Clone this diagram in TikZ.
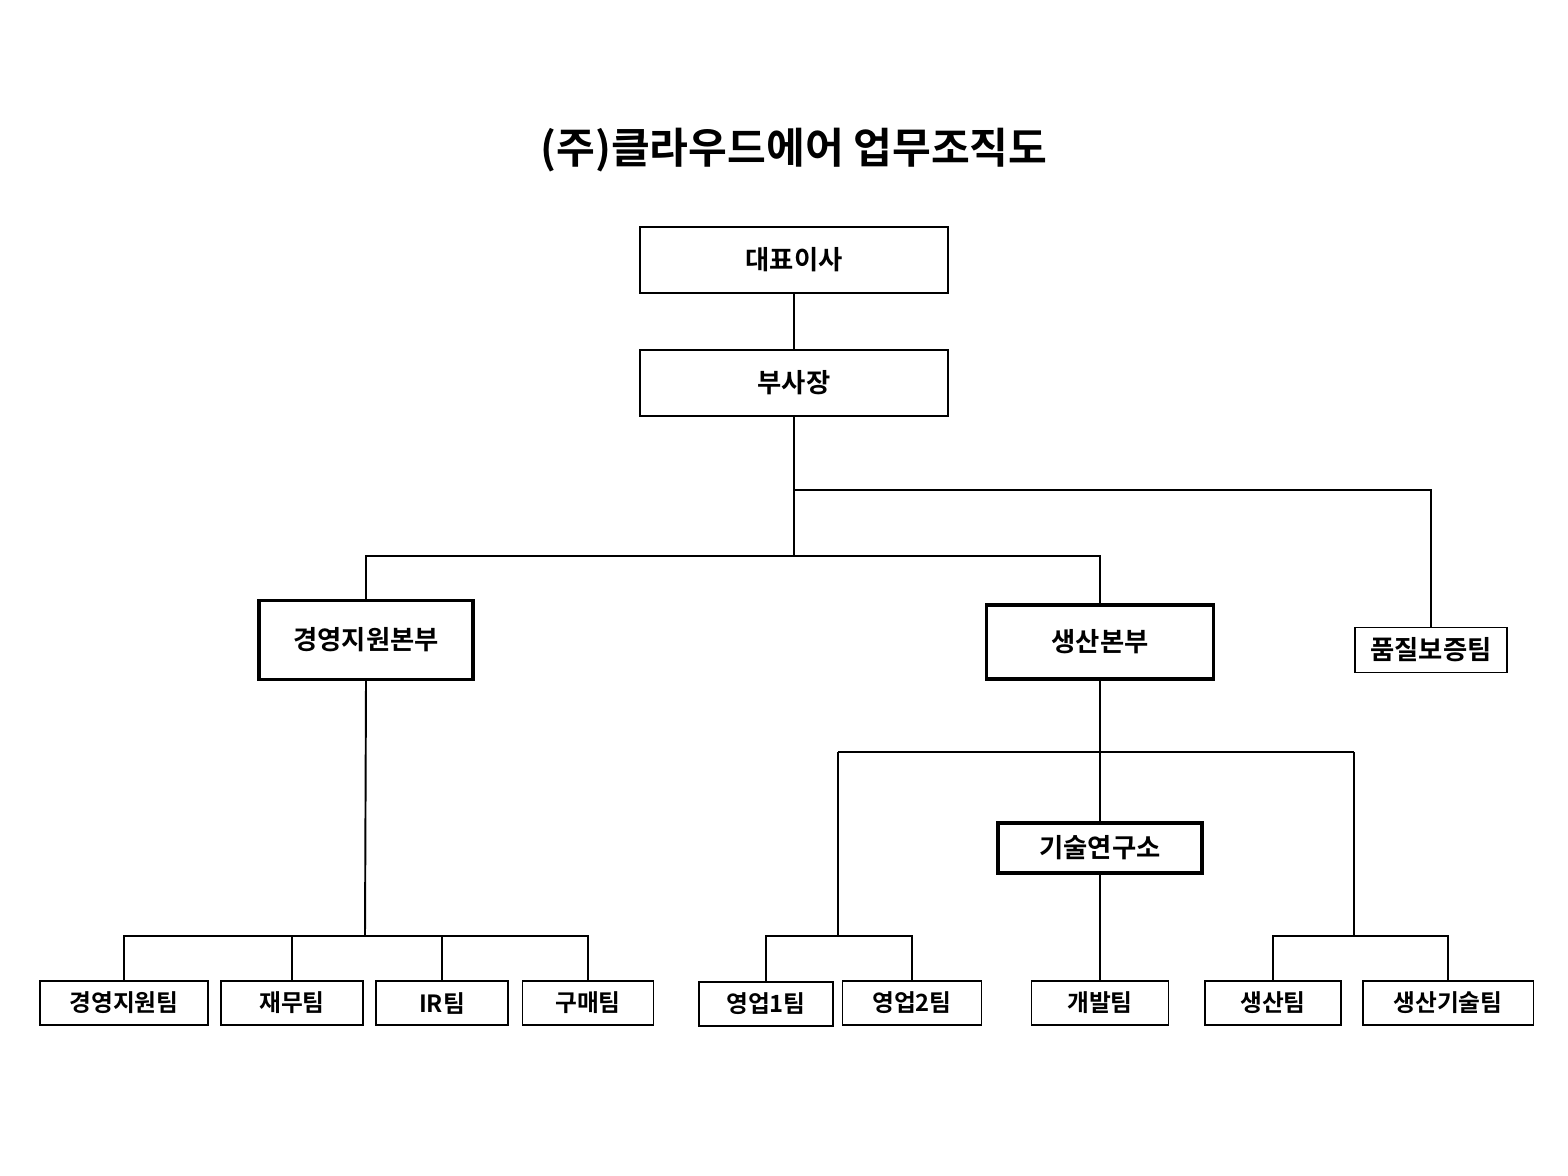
\documentclass[tikz,border=0pt]{standalone}
\usepackage{fontspec}
\setmainfont{Noto Sans CJK KR}[BoldFont={* Bold}]
\usepackage{tikz}

\tikzset{
  orgbox/.style={draw, line width=1.1pt, inner sep=0pt, font=\bfseries\fontsize{15}{15}\selectfont},
  headbox/.style={orgbox, line width=1.8pt},
  teambox/.style={orgbox, font=\bfseries\fontsize{13.5}{13.5}\selectfont, minimum height=0.88cm},
  link/.style={line width=1.1pt}
}

\begin{document}
\begin{tikzpicture}[x=0.02cm,y=-0.02cm]
			\useasboundingbox[fill=white] (0,0) rectangle (1568,1176);
			%\draw[step=100,gray,very thin] (0,0) grid (1568,1176);
			
			\node[font=\bfseries\fontsize{24}{24}\selectfont] (title) at (794,150) {(주)클라우드에어 업무조직도};
			
			\node[orgbox, minimum width=6.16cm, minimum height=1.32cm] (ceo) at (794,260) {대표이사};
			\node[orgbox, minimum width=6.16cm, minimum height=1.32cm] (vp) at (794,383) {부사장};
			
			\node[headbox, minimum width=4.28cm, minimum height=1.58cm] (mgmt) at (366,640) {경영지원본부};
			\node[headbox, minimum width=4.54cm, minimum height=1.48cm] (prod) at (1100,642) {생산본부};
			\node[orgbox, minimum width=3.04cm, minimum height=0.9cm] (qa) at (1431,650) {품질보증팀};
			\node[headbox, minimum width=4.08cm, minimum height=1.0cm] (lab) at (1100,848) {기술연구소};
			
			\node[teambox, minimum width=3.36cm] (t1) at (124,1003) {경영지원팀};
			\node[teambox, minimum width=2.84cm] (t2) at (292,1003) {재무팀};
			\node[teambox, minimum width=2.64cm] (t3) at (442,1003) {IR팀};
			\node[teambox, minimum width=2.62cm] (t4) at (588,1003) {구매팀};
			\node[teambox, minimum width=2.68cm] (s1) at (766,1004) {영업1팀};
			\node[teambox, minimum width=2.78cm] (s2) at (912,1003) {영업2팀};
			\node[teambox, minimum width=2.74cm] (dev) at (1100,1003) {개발팀};
			\node[teambox, minimum width=2.72cm] (p1) at (1273,1003) {생산팀};
			\node[teambox, minimum width=3.42cm] (p2) at (1448,1003) {생산기술팀};
			
			\coordinate (j0) at (794,490);
			\coordinate (j1) at (794,556);
			\coordinate (j2) at (365,936);
			\coordinate (j3) at (838,752);
			\coordinate (j4) at (1354,752);
			
			\draw[link] (ceo) -- (vp);
			\draw[link] (vp.south) -- (j1);
			\draw[link] (j0) -| (qa.north);
			\draw[link] (mgmt.north) |- (j1) -| (prod.north);
			
			\draw[link] (mgmt.south) -- (j2);
			\draw[link] (t1.north) |- (t4.north |- j2) -- (t4.north);
			\foreach \t in {t2,t3}
				\draw[link] (\t.north) -- (\t.north |- j2);
			
			\draw[link] (prod.south) -- (lab.north);
			\draw[link] (lab.south) -- (dev.north);
			\draw[link] (j3) -- (j4);
			\draw[link] (j3) -- (838,936);
			\draw[link] (j4) -- (1354,936);
			\draw[link] (s1.north) |- (s2.north |- 0,936) -- (s2.north);
			\draw[link] (p1.north) |- (p2.north |- 0,936) -- (p2.north);
\end{tikzpicture}
\end{document}
